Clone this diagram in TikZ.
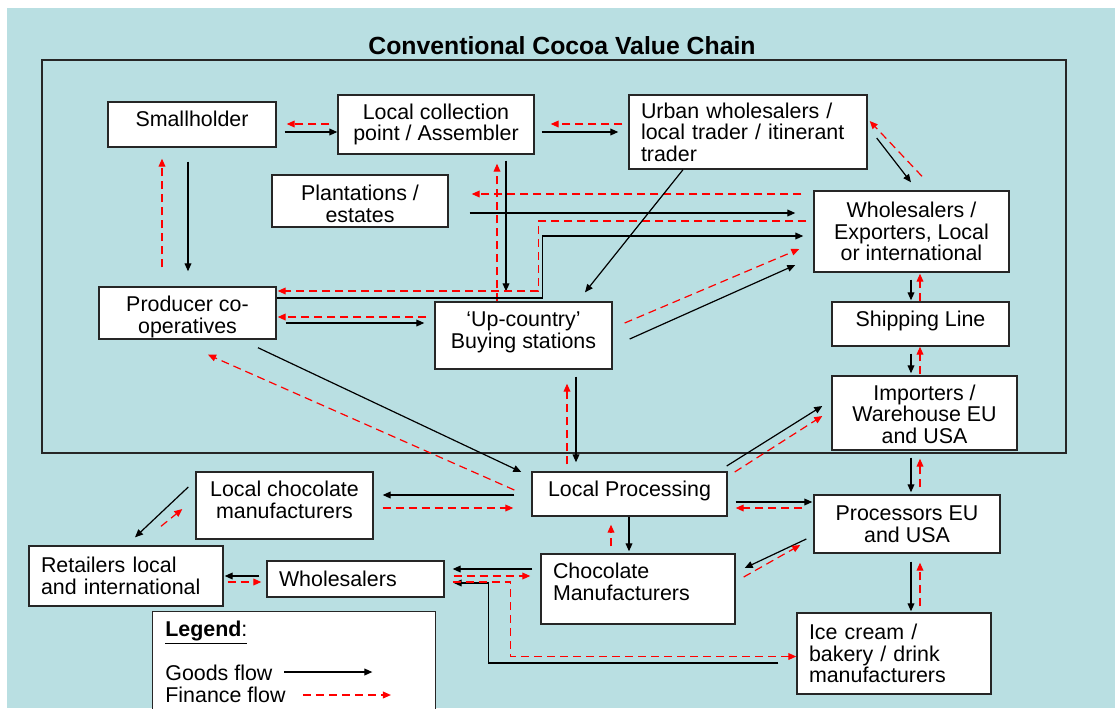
\documentclass[tikz,border=0pt]{standalone}
\usepackage{fontspec}
\setmainfont{Liberation Sans}
\usetikzlibrary{arrows.meta}

\definecolor{chainbg}{RGB}{185,223,226}
\definecolor{finred}{RGB}{255,0,0}
% extra depth below the last line, lifts the text inside its box
\newcommand{\dropby}[1]{\rule[-#1]{0pt}{0pt}}
% extra height above the first line, lowers the text inside its box
\newcommand{\topby}[1]{\rule{0pt}{#1}}

\tikzset{
    stage/.style={draw=black!85, line width=0.7pt, fill=white, inner xsep=3pt, inner ysep=0pt,
        font=\fontsize{10.7}{10.8}\selectfont, align=center},
    leftstage/.style={stage, align=left, inner xsep=6pt},
    goods/.style={-{Triangle[length=4pt,width=3.4pt]}, line width=0.6pt, black},
    finance/.style={-{Triangle[length=4pt,width=3.4pt]}, line width=0.6pt, finred, dash pattern=on 4pt off 2.5pt},
    legtext/.style={inner sep=0pt, anchor=base west, font=\fontsize{10.7}{10.8}\selectfont},
}

\begin{document}
\begin{tikzpicture}[x=0.5pt, y=-0.5pt]
    \useasboundingbox (0,0) rectangle (1115,708);
    \clip (0,0) rectangle (1115,708);
    \fill[white] (0,0) rectangle (1115,708);
    \fill[chainbg] (7,8) rectangle (1115,708);

    \node[font=\fontsize{12.4}{14}\selectfont\bfseries] (title) at (562,46) {Conventional Cocoa Value Chain};
    \draw[line width=0.7pt, black!85] (42,60) rectangle (1066,453);

    \node[stage, minimum width=84pt, minimum height=22.5pt] (small) at (192,124.5) {Smallholder\dropby{5.5pt}};
    \node[stage, minimum width=98pt, minimum height=29.5pt] (collect) at (436,124.5) {Local collection\\point / Assembler};
    \node[leftstage, text width=107pt, minimum height=37pt] (urban) at (748,132) {Urban wholesalers /\\local trader / itinerant\\trader};
    \node[stage, minimum width=88pt, minimum height=26pt] (plant) at (360,201) {\topby{10.8pt}Plantations /\\estates};
    \node[stage, minimum width=97.5pt, minimum height=40.5pt] (export) at (911.5,231.5) {Wholesalers /\\Exporters, Local\\or international};
    \node[stage, minimum width=88.5pt, minimum height=26pt] (coop) at (187.5,313) {\topby{11.8pt}Producer co-\\operatives};
    \node[stage, minimum width=88.5pt, minimum height=33.5pt] (upcountry) at (523.5,335.5) {‘Up-country’\\Buying stations\dropby{5.2pt}};
    \node[stage, minimum width=88.5pt, minimum height=22pt] (ship) at (920.5,324) {Shipping Line\dropby{5.2pt}};
    \node[stage, minimum width=92.5pt, minimum height=37pt] (import) at (924.5,413) {\topby{9pt}Importers /\\Warehouse EU\\and USA};
    \node[stage, minimum width=97.5pt, minimum height=22pt] (localproc) at (629.5,494) {Local Processing\dropby{5.2pt}};
    \node[stage, minimum width=93pt, minimum height=29pt] (procEU) at (907,524) {Processors EU\\and USA};
    \node[leftstage, text width=85pt, minimum height=35pt] (chocmfr) at (638,589) {Chocolate\\Manufacturers\dropby{7.5pt}};
    \node[leftstage, text width=85pt, minimum height=40.5pt] (icecream) at (894,653.5) {Ice cream /\\bakery / drink\\manufacturers};
    \node[stage, minimum width=88.5pt, minimum height=33.5pt] (localchoc) at (284.5,505.5) {Local chocolate\\manufacturers\dropby{5.5pt}};
    \node[leftstage, text width=85pt, minimum height=30pt] (retail) at (126,576) {Retailers local\\and international};
    \node[leftstage, text width=76.5pt, minimum height=18pt] (whole) at (355.5,579) {Wholesalers};

    % inside the producing country
    \draw[finance] ([shift={(-8,-0.5)}]collect.west) -- ([shift={(10,-0.5)}]small.east);
    \draw[goods] ([shift={(8,7.5)}]small.east) -- ([shift={(0,7.5)}]collect.west);
    \draw[finance] ([shift={(-6,-8)}]urban.west) -- ([shift={(16,-0.5)}]collect.east);
    \draw[goods] ([shift={(7,7.5)}]collect.east) -- ([shift={(-10,0)}]urban.west);
    \draw[goods] ([shift={(-4,14)}]small.south) -- ([shift={(0.5,-15)}]coop.north);
    \draw[finance] ([shift={(-25.5,-19)}]coop.north) -- ([shift={(-30,11)}]small.south);
    \draw[goods] ([shift={(70,6)}]collect.south) -- ([shift={(-17.5,-10)}]upcountry.north);
    \draw[finance] ([shift={(-26.5,0)}]upcountry.north) -- ([shift={(61,9)}]collect.south);
    \draw[finance] ([shift={(-12,-37.5)}]export.west) -- ([shift={(23,-7)}]plant.east);
    \draw[goods] ([shift={(21,12)}]plant.east) -- ([shift={(-18,-18.5)}]export.west);
    \draw[goods] ([shift={(0,-15)}]coop.east) -- ++(266,0) |- ([shift={(-10,4.5)}]export.west);
    \draw[finance] ([shift={(-7,-10.5)}]export.west) -- ++(-268,0) |- ([shift={(1,-22)}]coop.east);
    \draw[finance] ([shift={(-8,-18.5)}]upcountry.west) -- ([shift={(1,4)}]coop.east);
    \draw[goods] ([shift={(9,10)}]coop.east) -- ([shift={(-10,-12.5)}]upcountry.west);
    \draw[goods] ([shift={(-65,0)}]urban.south) -- ([shift={(61.5,-9)}]upcountry.north);
    \draw[goods] ([shift={(9,6)}]urban.east) -- ([shift={(-0.5,-8)}]export.north);
    \draw[finance] ([shift={(10.5,-14)}]export.north) -- ([shift={(2,-11)}]urban.east);
    \draw[finance] ([shift={(12,-12.5)}]upcountry.east) -- ([shift={(-14,17.5)}]export.west);
    \draw[goods] ([shift={(17,3.5)}]upcountry.east) -- ([shift={(-18,33.5)}]export.west);

    % export side
    \draw[goods] ([shift={(-0.5,7)}]export.south) -- ([shift={(-9.5,-1)}]ship.north);
    \draw[finance] ([shift={(-0.5,0)}]ship.north) -- ([shift={(8.5,1)}]export.south);
    \draw[goods] ([shift={(-9.5,7)}]ship.south) -- ([shift={(-13.5,-2)}]import.north);
    \draw[finance] ([shift={(-4.5,-1)}]import.north) -- ([shift={(-0.5,0)}]ship.south);
    \draw[goods] ([shift={(-13.5,7)}]import.south) -- ([shift={(4,-2)}]procEU.north);
    \draw[finance] ([shift={(13,-7)}]procEU.north) -- ([shift={(-4.5,8)}]import.south);
    \draw[goods] ([shift={(4,8)}]procEU.south) -- ([shift={(17,-1)}]icecream.north);
    \draw[finance] ([shift={(26,-6)}]icecream.north) -- ([shift={(13,9)}]procEU.south);

    % processing and manufacturing
    \draw[goods] ([shift={(-1,-28)}]localproc.east) -- ([shift={(-9,-7)}]import.west);
    \draw[finance] ([shift={(7,-22)}]localproc.east) -- ([shift={(-9,3)}]import.west);
    \draw[goods] ([shift={(8,8)}]localproc.east) -- ([shift={(-1,-22)}]procEU.west);
    \draw[finance] ([shift={(-11,-16)}]procEU.west) -- ([shift={(8,14)}]localproc.east);
    \draw[goods] ([shift={(-7,15)}]procEU.west) -- ([shift={(9,-21)}]chocmfr.east);
    \draw[finance] ([shift={(8,-12)}]chocmfr.east) -- ([shift={(-13,21)}]procEU.west);
    \draw[goods] ([shift={(52.5,7)}]upcountry.south) -- ([shift={(-53.5,-9)}]localproc.north);
    \draw[finance] ([shift={(-62.5,-7)}]localproc.north) -- ([shift={(43.5,14)}]upcountry.south);
    \draw[goods] ([shift={(-0.5,0)}]localproc.south) -- ([shift={(-9,-2)}]chocmfr.north);
    \draw[finance] ([shift={(-27,-7)}]chocmfr.north) -- ([shift={(-18.5,8)}]localproc.south);
    \draw[goods] ([shift={(70.5,8)}]coop.south) -- ([shift={(-10,-22)}]localproc.west);
    \draw[finance] ([shift={(-17,-4)}]localproc.west) -- ([shift={(20.5,15)}]coop.south);
    \draw[goods] ([shift={(-17,1)}]localproc.west) -- ([shift={(9,-10.5)}]localchoc.east);
    \draw[finance] ([shift={(9,2.5)}]localchoc.east) -- ([shift={(-18,14)}]localproc.west);

    % to the retailers
    \draw[goods] ([shift={(-7,-18.5)}]localchoc.west) -- ([shift={(9,-8)}]retail.north);
    \draw[finance] ([shift={(35,-19)}]retail.north) -- ([shift={(-13,3.5)}]localchoc.west);
    \draw[goods] ([shift={(-7,-3)}]whole.west) -- ([shift={(1,0)}]retail.east);
    \draw[finance] ([shift={(4,6)}]retail.east) -- ([shift={(-5,3)}]whole.west);
    \draw[goods] ([shift={(-8,-20)}]chocmfr.west) -- ([shift={(8,-10)}]whole.east);
    \draw[finance] ([shift={(9,-3)}]whole.east) -- ([shift={(-10,-13)}]chocmfr.west);
    \draw[goods] ([shift={(-18,9.5)}]icecream.west) -- ++(-290,0) |- ([shift={(9,4)}]whole.east);
    \draw[finance] ([shift={(8,3)}]whole.east) -- ++(58,0) |- ([shift={(0,3)}]icecream.west);

    % legend
    \node[draw=black!85, line width=0.7pt, fill=white, anchor=north west, inner sep=0pt,
        minimum width=141.5pt, minimum height=65pt] (legend) at (152,611) {};
    \node[legtext] (lgtitle) at (165,636) {\underline{\textbf{Legend}:}};
    \node[legtext] (lggoods) at (165,680) {Goods flow};
    \node[legtext] (lgfin) at (165,702) {Finance flow};
    \draw[goods] ([shift={(11.5,-8)}]lggoods.base east) -- ++(88,0);
    \draw[finance] ([shift={(17,-7)}]lgfin.base east) -- ++(88,0);
\end{tikzpicture}
\end{document}
